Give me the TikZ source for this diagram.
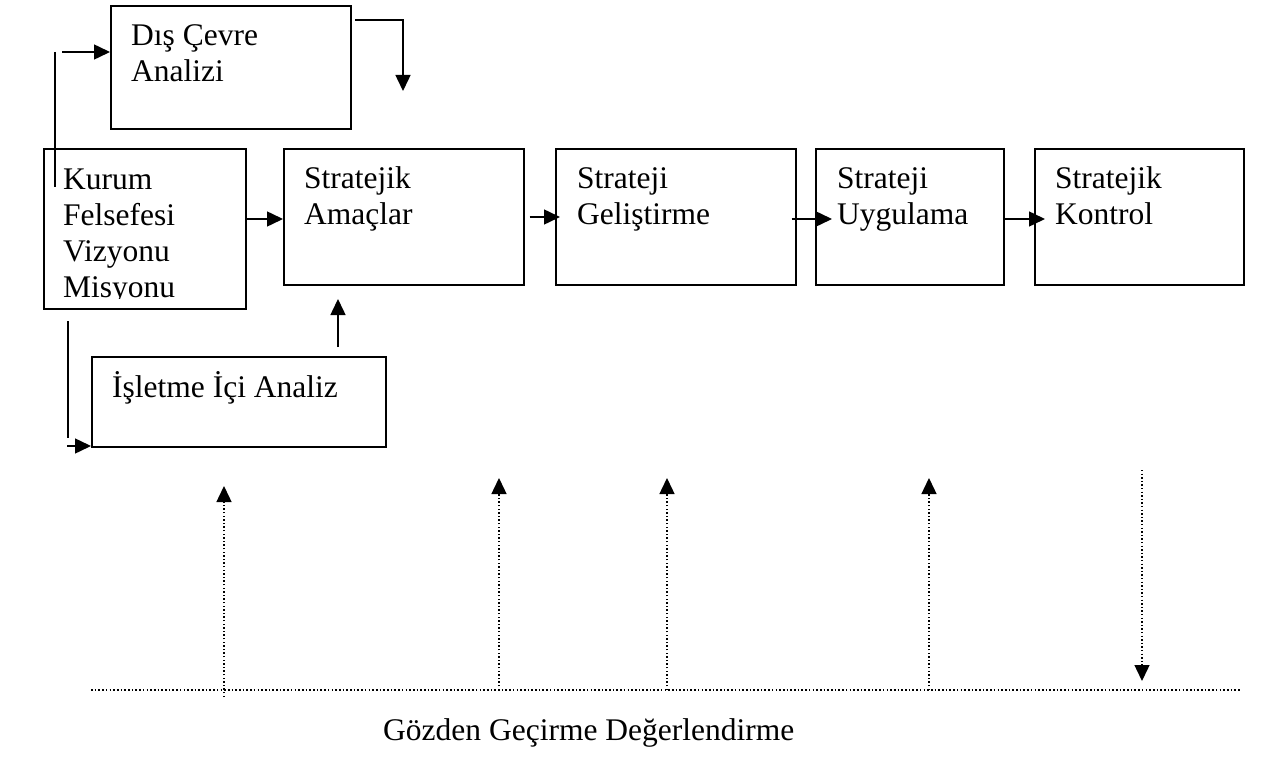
\documentclass[tikz,border=0pt]{standalone}
\usepackage{fontspec}
\setmainfont{Liberation Serif}
\usetikzlibrary{arrows.meta}
\begin{document}
\begin{tikzpicture}[x=1pt,y=-1pt,
  box/.style={draw,line width=1.6pt,inner sep=0pt,anchor=north west},
  txt/.style={anchor=base west,inner sep=0pt,align=left,font=\fontsize{31.5}{36}\selectfont},
  arr/.style={line width=1.5pt,-{Triangle[length=16pt,width=15pt]}},
  ln/.style={line width=1.5pt},
  dotl/.style={line width=1.6pt,dash pattern=on 1.6pt off 2.1pt},
  darr/.style={line width=1.4pt,dash pattern=on 1.4pt off 2.2pt,-{Triangle[length=16pt,width=15pt]}}]
\useasboundingbox (0,0) rectangle (1262,757);

% boxes
\node[box,minimum width=240pt,minimum height=123pt] (dis) at (110,5) {};
\node[box,minimum width=202pt,minimum height=160pt] (kur) at (43,148) {};
\node[box,minimum width=240pt,minimum height=136pt] (ama) at (283,148) {};
\node[box,minimum width=240pt,minimum height=136pt] (gel) at (555,148) {};
\node[box,minimum width=188pt,minimum height=136pt] (uyg) at (815,148) {};
\node[box,minimum width=209pt,minimum height=136pt] (kon) at (1034,148) {};
\node[box,minimum width=294pt,minimum height=90pt] (isl) at (91,356) {};

% texts (anchor = baseline of the last line)
\node[txt] (dist) at (131,82) {Dış Çevre\\Analizi};
\begin{scope}
  \clip (43,148) rectangle (245,298);
  \node[txt] (kurt) at (63,297) {Kurum\\Felsefesi\\Vizyonu\\Misyonu};
\end{scope}
\node[txt] (amat) at (304,225) {Stratejik\\Amaçlar};
\node[txt] (gelt) at (577,225) {Strateji\\Geliştirme};
\node[txt] (uygt) at (837,225) {Strateji\\Uygulama};
\node[txt] (kont) at (1055,225) {Stratejik\\Kontrol};
\node[txt] (islt) at (112,397) {İşletme İçi Analiz};
\node[txt] (goz) at (383,740) {Gözden Geçirme Değerlendirme};

% level coordinates
\coordinate (ya) at (0,219);
\coordinate (yb) at (0,217);

% main chain
\draw[arr] (kur.east |- ya) -- (ama.west |- ya);
\draw[arr] ([xshift=5pt]ama.east |- yb) -- ([xshift=5pt]gel.west |- yb);
\draw[arr] ([xshift=-5pt]gel.east |- ya) -- ([xshift=17pt]uyg.west |- ya);
\draw[arr] (uyg.east |- ya) -- ([xshift=11pt]kon.west |- ya);

% Kurum -> Dis Cevre
\coordinate (v1t) at (55,52);
\coordinate (v1b) at (55,187);
\draw[ln] (v1t) -- (v1b);
\coordinate (h1s) at (62,52);
\draw[arr] (h1s) -- (dis.west |- h1s);

% Dis Cevre exit
\coordinate (e1) at (355,20);
\coordinate (e2) at (403,91);
\draw[arr] (e1) -| (e2);

% Kurum -> Isletme
\coordinate (v2t) at (68,321);
\coordinate (v2b) at (68,438);
\draw[ln] (v2t) -- (v2b);
\coordinate (h2s) at (67,446);
\draw[arr] (h2s) -- (isl.west |- h2s);

% Isletme -> Amaclar
\coordinate (i1) at (338,347);
\coordinate (i2) at (338,299);
\draw[arr] (i1) -- (i2);

% review line
\coordinate (hl) at (91,690);
\coordinate (hr) at (1240,690);
\draw[dotl] (hl) -- (hr);

\coordinate (d1b) at (224,697); \coordinate (d1t) at (224,486);
\coordinate (d2b) at (499,690); \coordinate (d2t) at (499,478);
\coordinate (d3b) at (667,690); \coordinate (d3t) at (667,478);
\coordinate (d4b) at (929,690); \coordinate (d4t) at (929,478);
\coordinate (d5t) at (1142,470); \coordinate (d5b) at (1142,681);
\draw[darr] (d1b) -- (d1t);
\draw[darr] (d2b) -- (d2t);
\draw[darr] (d3b) -- (d3t);
\draw[darr] (d4b) -- (d4t);
\draw[darr] (d5t) -- (d5b);
\end{tikzpicture}
\end{document}
